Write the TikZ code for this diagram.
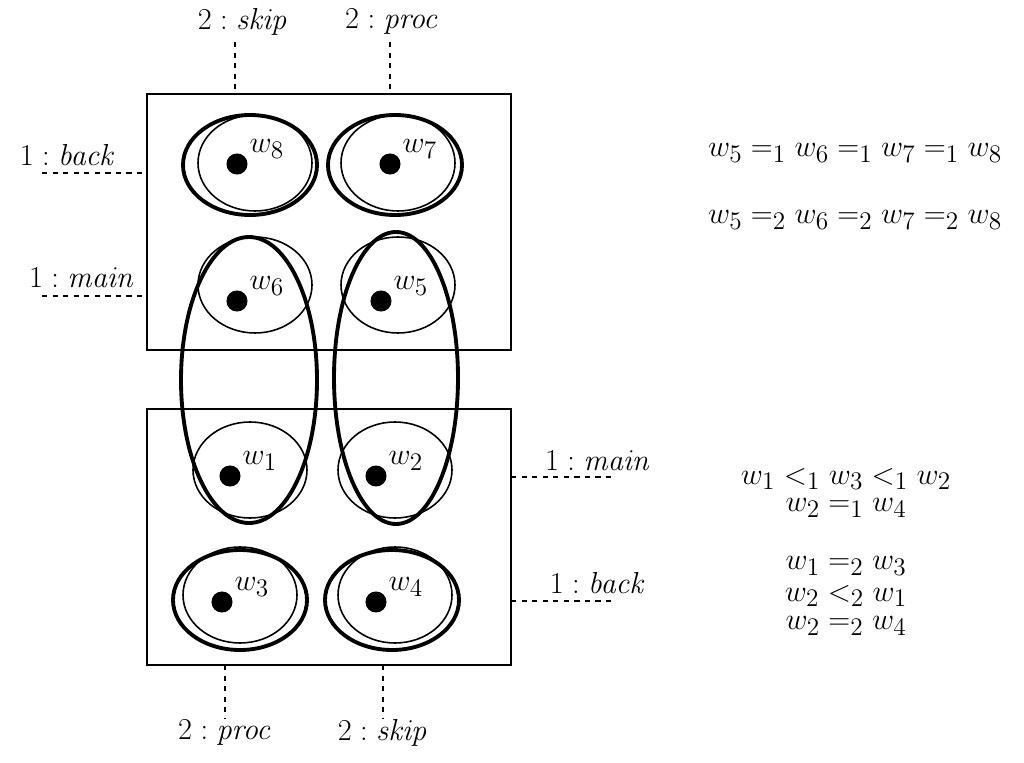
\documentclass[tikz,border=0pt]{standalone}
\begin{document}
\begin{tikzpicture}[x=0.02cm,y=-0.02cm,font=\fontsize{19}{22}\selectfont,
 thinring/.style={line width=0.9pt}, thickring/.style={line width=2.2pt},
 dashline/.style={dashed,line width=1pt}, dot/.style={circle,fill,inner sep=0pt,minimum size=12pt}]
\useasboundingbox (0,0) rectangle (1024,763);
\draw[line width=1pt] (147,94) rectangle (511,350);
\draw[line width=1pt] (147,409) rectangle (511,665);
% dots
\foreach \k/\x/\y in {8/237/164,7/390/164,6/237/301,5/381/301,1/230/476,2/376/476,3/222/602,4/376/602}{
 \node[dot] (w\k) at (\x,\y) {};
 \node[anchor=south west,inner sep=1pt] (lw\k) at ([xshift=6pt,yshift=2pt]w\k) {$w_{\k}$};}
% thin circles
\foreach \x/\y in {255/163,398/163,255/285,398/285,250/470,395/470,240/595,395/595}
 \draw[thinring] (\x,\y) ellipse [x radius=57,y radius=48];
% thick ellipses
\foreach \x/\y in {250/165,395/165,240/600,392/600}
 \draw[thickring] (\x,\y) ellipse [x radius=67,y radius=50];
\draw[thickring] (249,380) ellipse [x radius=68,y radius=143];
\draw[thickring] (396,378) ellipse [x radius=62,y radius=146];
% dashed connectors
\coordinate (a1) at (235,42); \coordinate (a2) at (235,94);
\coordinate (b1) at (390,42); \coordinate (b2) at (390,94);
\draw[dashline] (a1)--(a2); \draw[dashline] (b1)--(b2);
\node (ls) at (243,22) {$2:\mathit{skip}$};
\node (lp) at (392,22) {$2:\mathit{proc}$};
\coordinate (c1) at (42,173); \coordinate (c2) at (147,173);
\coordinate (d1) at (42,296); \coordinate (d2) at (147,296);
\draw[dashline] (c1)--(c2); \draw[dashline] (d1)--(d2);
\node (lb) at (68,155) {$1:\mathit{back}$};
\node (lm) at (82,278) {$1:\mathit{main}$};
\coordinate (e1) at (511,477); \coordinate (e2) at (615,477);
\coordinate (f1) at (511,601); \coordinate (f2) at (615,601);
\draw[dashline] (e1)--(e2); \draw[dashline] (f1)--(f2);
\node (rm) at (598,461) {$1:\mathit{main}$};
\node (rb) at (598,583) {$1:\mathit{back}$};
\coordinate (g1) at (225,665); \coordinate (g2) at (225,718);
\coordinate (h1) at (383,665); \coordinate (h2) at (383,718);
\draw[dashline] (g1)--(g2); \draw[dashline] (h1)--(h2);
\node (bp) at (225,733) {$2:\mathit{proc}$};
\node (bs) at (383,733) {$2:\mathit{skip}$};
% equations
\node (t1) at (855,153) {$w_5 =_1 w_6 =_1 w_7 =_1 w_8$};
\node (t2) at (855,220) {$w_5 =_2 w_6 =_2 w_7 =_2 w_8$};
\node (t3) at (846,479) {$w_1 <_1 w_3 <_1 w_2$};
\node (t4) at (846,508) {$w_2 =_1 w_4$};
\node (t5) at (846,566) {$w_1 =_2 w_3$};
\node (t6) at (846,596) {$w_2 <_2 w_1$};
\node (t7) at (846,626) {$w_2 =_2 w_4$};
\end{tikzpicture}
\end{document}
